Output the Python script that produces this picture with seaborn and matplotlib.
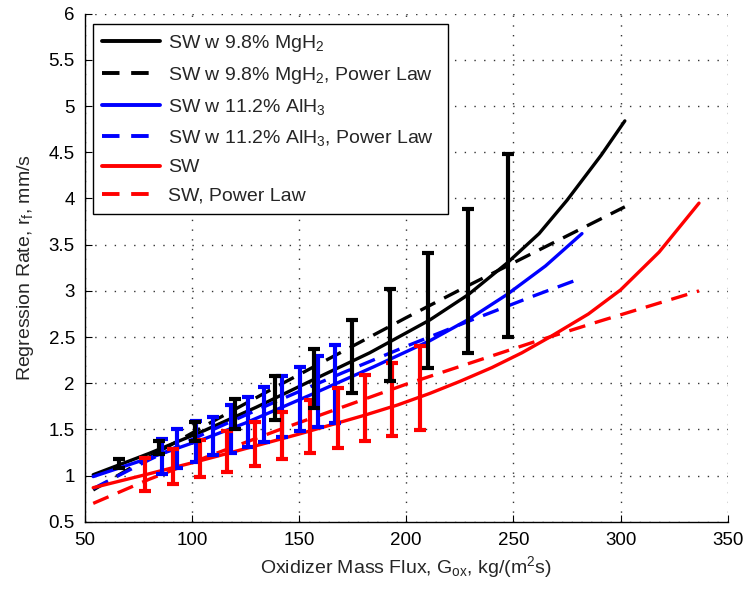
import matplotlib
matplotlib.use("Agg")
import matplotlib.pyplot as plt
import seaborn as sns
import pandas as pd
from matplotlib.lines import Line2D

# ---------------- data ----------------
# Fit curves
mgh2_fit_x = [54, 80, 106, 130, 155, 183, 211, 229, 247, 262, 275, 291, 302]
mgh2_fit_y = [1.01, 1.24, 1.49, 1.74, 2.02, 2.33, 2.685, 2.96, 3.30, 3.62, 3.98, 4.47, 4.84]
mgh2_pl_x = [54, 80, 110, 140, 170, 200, 230, 260, 302]
mgh2_pl_y = [0.845, 1.20, 1.59, 1.97, 2.34, 2.71, 3.07, 3.42, 3.91]

alh3_fit_x = [54, 80, 106, 125, 155, 185, 211, 229, 247, 265, 282]
alh3_fit_y = [0.99, 1.19, 1.40, 1.57, 1.87, 2.18, 2.46, 2.69, 2.96, 3.27, 3.62]
alh3_pl_x = [54, 80, 110, 140, 170, 200, 230, 260, 282]
alh3_pl_y = [0.86, 1.17, 1.50, 1.81, 2.11, 2.40, 2.68, 2.95, 3.14]

sw_fit_x = [54, 80, 102, 123, 150, 180, 196, 211, 225, 240, 254, 267, 285, 300, 318, 336.6]
sw_fit_y = [0.87, 1.02, 1.15, 1.28, 1.45, 1.65, 1.765, 1.89, 2.02, 2.17, 2.33, 2.50, 2.75, 3.01, 3.42, 3.95]
sw_pl_x = [54, 80, 110, 140, 170, 200, 230, 260, 290, 336.6]
sw_pl_y = [0.70, 0.96, 1.23, 1.49, 1.74, 1.99, 2.22, 2.45, 2.67, 3.00]

# Measured points with error bars
mgh2_gox = [66, 84.5, 101.6, 120.3, 138.6, 156.8, 174.7, 192.6, 210, 228.9, 247.4]
mgh2_rf = [1.13, 1.30, 1.48, 1.67, 1.84, 2.05, 2.29, 2.52, 2.79, 3.11, 3.49]
mgh2_err = [0.05, 0.07, 0.10, 0.16, 0.24, 0.32, 0.40, 0.50, 0.62, 0.78, 0.99]

alh3_gox = [86, 93.3, 102, 109.8, 118.4, 126, 133.9, 142, 150.3, 158.7, 166.6]
alh3_rf = [1.21, 1.29, 1.37, 1.43, 1.51, 1.58, 1.66, 1.745, 1.83, 1.915, 1.99]
alh3_err = [0.19, 0.21, 0.22, 0.21, 0.26, 0.27, 0.30, 0.33, 0.35, 0.385, 0.42]

sw_gox = [78.2, 91.1, 103.9, 116.6, 129.6, 142.3, 155.2, 168.0, 180.6, 193.4, 206.6]
sw_rf = [1.01, 1.10, 1.19, 1.26, 1.34, 1.435, 1.53, 1.625, 1.73, 1.825, 1.945]
sw_err = [0.18, 0.185, 0.20, 0.22, 0.24, 0.255, 0.29, 0.325, 0.36, 0.395, 0.455]

labels = ["SW w 9.8% MgH$_2$", "SW w 9.8% MgH$_2$, Power Law",
          "SW w 11.2% AlH$_3$", "SW w 11.2% AlH$_3$, Power Law",
          "SW", "SW, Power Law"]
colors = ["black", "black", "blue", "blue", "red", "red"]
solid = [True, False, True, False, True, False]

x_ticks = [50, 100, 150, 200, 250, 300, 350]
y_ticks = [0.5, 1, 1.5, 2, 2.5, 3, 3.5, 4, 4.5, 5, 5.5, 6]
y_tick_labels = ["0.5", "1", "1.5", "2", "2.5", "3", "3.5", "4", "4.5", "5", "5.5", "6"]

curves = [(mgh2_fit_x, mgh2_fit_y), (mgh2_pl_x, mgh2_pl_y),
          (alh3_fit_x, alh3_fit_y), (alh3_pl_x, alh3_pl_y),
          (sw_fit_x, sw_fit_y), (sw_pl_x, sw_pl_y)]

rows = []
for lab, (xs, ys) in zip(labels, curves):
    for xv, yv in zip(xs, ys):
        rows.append({"G": xv, "r": yv, "series": lab})
df = pd.DataFrame(rows)

# ---------------- style ----------------
sns.set_theme(style="white")
plt.rcParams["font.family"] = ["Liberation Sans", "DejaVu Sans"]
plt.rcParams["mathtext.fontset"] = "custom"
plt.rcParams["mathtext.rm"] = "Liberation Sans"
plt.rcParams["mathtext.it"] = "Liberation Sans"
plt.rcParams["mathtext.default"] = "regular"

fig = plt.figure(figsize=(7.47, 5.89), dpi=100)
ax = fig.add_axes([0.1133, 0.1140, 0.8609, 0.8627])

dash = (5, 3)
palette = dict(zip(labels, colors))
dashes = {lab: ("" if s else dash) for lab, s in zip(labels, solid)}

sns.lineplot(data=df, x="G", y="r", hue="series", style="series",
             hue_order=labels, style_order=labels, palette=palette,
             dashes=dashes, estimator=None, sort=True, linewidth=2.4,
             legend=False, ax=ax, zorder=2)

eb_kw = dict(fmt="none", elinewidth=3.0, capsize=4.3, capthick=3.0, zorder=3)
ax.errorbar(alh3_gox, alh3_rf, yerr=alh3_err, ecolor="blue", **eb_kw)
ax.errorbar(sw_gox, sw_rf, yerr=sw_err, ecolor="red", **eb_kw)
ax.errorbar(mgh2_gox, mgh2_rf, yerr=mgh2_err, ecolor="black", **eb_kw)

ax.set_xlim(50, 350)
ax.set_ylim(0.5, 6)
ax.set_xticks(x_ticks)
ax.set_yticks(y_ticks)
ax.set_yticklabels(y_tick_labels)

ax.grid(True, linestyle=(0, (1, 6)), color="0.2", linewidth=1.0)
for s in ["top", "right"]:
    ax.spines[s].set_visible(False)
for s in ["left", "bottom"]:
    ax.spines[s].set_color("black")
    ax.spines[s].set_linewidth(1.0)
ax.tick_params(direction="in", length=5, width=0.8, colors="black",
               labelsize=13.5, left=True, bottom=True)
ax.tick_params(axis="x", pad=7)
ax.tick_params(axis="y", pad=7)

ax.set_xlabel("Oxidizer Mass Flux, G$_{ox}$, kg/(m$^2$s)", fontsize=14, labelpad=4)
ax.set_ylabel("Regression Rate, r$_f$, mm/s", fontsize=14, labelpad=9)

handles = [Line2D([], [], color=c, linewidth=2.8,
                  linestyle="-" if s else (0, (4.5, 3)))
           for c, s in zip(colors, solid)]
leg = ax.legend(handles, labels, loc="upper left",
                bbox_to_anchor=(0.0135, 0.0, 0.5515, 0.979), mode="expand",
                borderaxespad=0.0, fontsize=14, frameon=True, fancybox=False,
                framealpha=1.0, edgecolor="black", handlelength=3.0,
                handletextpad=0.4, labelspacing=0.56, borderpad=0.45)
leg.get_frame().set_linewidth(1.0)

fig.savefig("out.png", dpi=100)
